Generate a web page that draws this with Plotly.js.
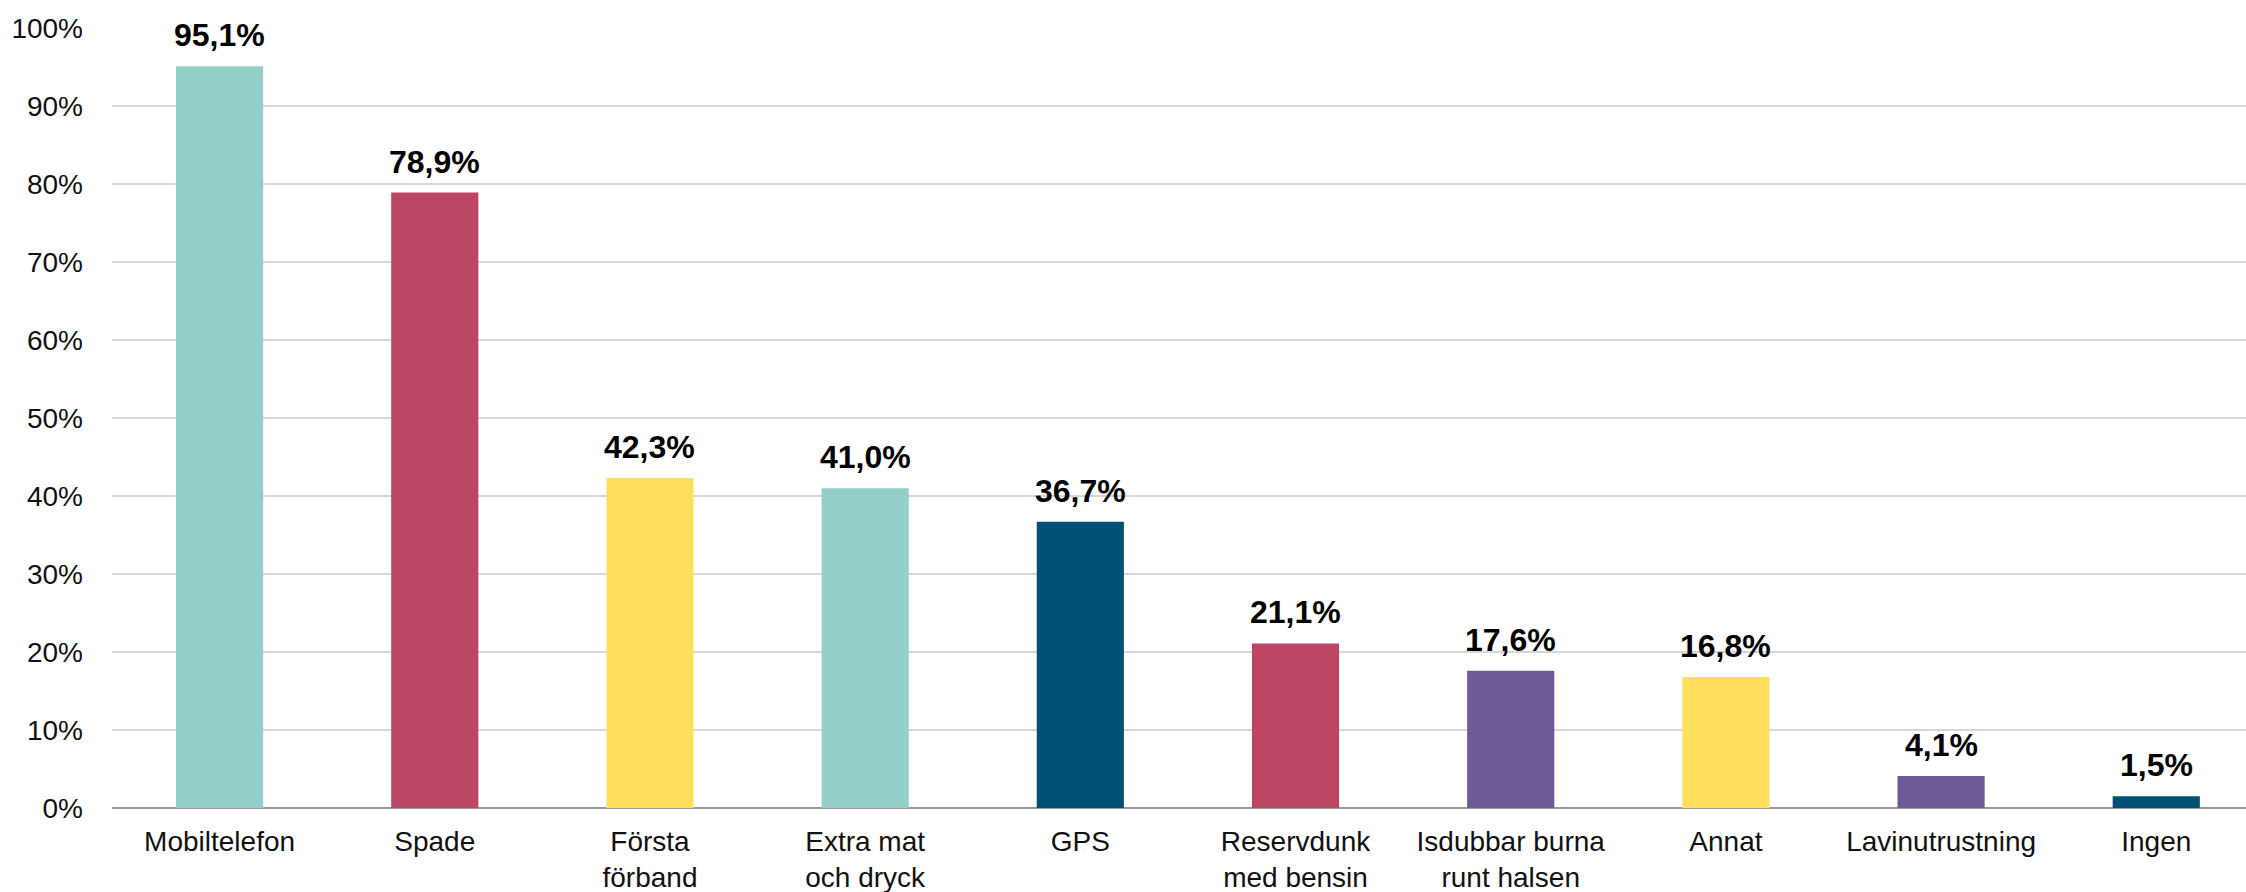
<!DOCTYPE html>
<html>
<head>
<meta charset="utf-8">
<script src="https://cdn.plot.ly/plotly-3.0.1.min.js"></script>
<style>html,body{margin:0;padding:0;background:#fff;}#chart{width:2246px;height:892px;}</style>
</head>
<body>
<div id="chart"></div>
<script>
const categories = ["Mobiltelefon", "Spade", "Första<br>förband", "Extra mat<br>och dryck", "GPS", "Reservdunk<br>med bensin", "Isdubbar burna<br>runt halsen", "Annat", "Lavinutrustning", "Ingen"];
const values = [95.1, 78.9, 42.3, 41.0, 36.7, 21.1, 17.6, 16.8, 4.1, 1.5];
const barColors = ["#92D0C7", "#BC4564", "#FFDF5D", "#92D0C7", "#025073", "#BC4564", "#6E5A97", "#FFDF5D", "#6E5A97", "#025073"];
const yTickVals = [0, 10, 20, 30, 40, 50, 60, 70, 80, 90, 100];
const yTickText = ["0%", "10%", "20%", "30%", "40%", "50%", "60%", "70%", "80%", "90%", "100%"];

const fmt = v => v.toFixed(1).replace('.', ',') + '%';
const xIdx = categories.map((c, i) => i);

const trace = {
  type: 'bar',
  x: xIdx,
  y: values,
  marker: {color: barColors},
  width: 0.405,
  hoverinfo: 'skip'
};

const annotations = values.map((v, i) => ({
  x: i, y: v, xref: 'x', yref: 'y',
  text: '<b>' + fmt(v) + '</b>',
  showarrow: false,
  yanchor: 'bottom',
  yshift: 11,
  font: {family: 'Liberation Sans, Arial, sans-serif', size: 32, color: '#000'}
}));

const layout = {
  width: 2246, height: 892,
  margin: {l: 112, r: 0, t: 28, b: 84},
  paper_bgcolor: '#fff', plot_bgcolor: '#fff',
  showlegend: false,
  xaxis: {
    range: [-0.5, 9.417],
    tickvals: xIdx,
    ticktext: categories,
    tickfont: {family: 'Liberation Sans, Arial, sans-serif', size: 28, color: '#111'},
    showgrid: false, zeroline: false, showline: false,
    ticks: '', ticklabelstandoff: 14, fixedrange: true
  },
  yaxis: {
    range: [0, 100],
    tickvals: yTickVals,
    ticktext: yTickText,
    tickfont: {family: 'Liberation Sans, Arial, sans-serif', size: 28, color: '#111'},
    showgrid: true, gridcolor: '#d6d6d6', gridwidth: 1.5,
    zeroline: true, zerolinecolor: '#999', zerolinewidth: 2,
    showline: false, ticks: '', ticklabelstandoff: 28, fixedrange: true
  },
  annotations: annotations
};

Plotly.newPlot('chart', [trace], layout, {displayModeBar: false, staticPlot: true});
</script>
</body>
</html>
